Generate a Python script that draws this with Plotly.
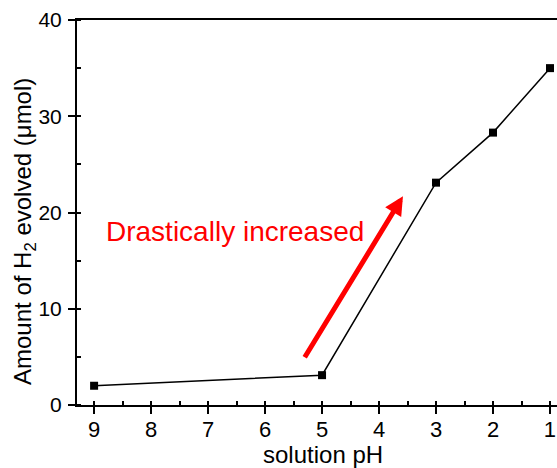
import plotly.graph_objects as go

ph = [9, 5, 3, 2, 1]
h2 = [2.0, 3.1, 23.1, 28.3, 35.0]
x_ticks = [9, 8, 7, 6, 5, 4, 3, 2, 1]
y_ticks = [0, 10, 20, 30, 40]

fig = go.Figure()
fig.add_trace(go.Scatter(
    x=ph, y=h2, mode="lines+markers",
    line=dict(color="black", width=1.5),
    marker=dict(symbol="square", size=8, color="black"),
    showlegend=False, cliponaxis=False,
))

fig.add_annotation(
    x=3.58, y=21.7, ax=5.32, ay=4.8,
    xref="x", yref="y", axref="x", ayref="y",
    text="", showarrow=True,
    arrowhead=2, arrowsize=0.75, arrowwidth=5, arrowcolor="#ff0000",
)
fig.add_annotation(
    x=6.53, y=18.0, xref="x", yref="y",
    text="Drastically increased", showarrow=False,
    font=dict(family="Liberation Sans, Arial", size=28, color="#ff0000"),
    xanchor="center", yanchor="middle",
)

xtick_font = dict(family="Liberation Sans, Arial", size=22, color="black")
ytick_font = dict(family="Liberation Sans, Arial", size=21, color="black")
title_font = dict(family="Liberation Sans, Arial", size=24, color="black")

# axis titles as annotations for exact placement
fig.add_annotation(
    x=(25 - 77) / 480, y=(405 - 232) / 385, xref="paper", yref="paper",
    text="Amount of H<sub>2</sub> evolved (μmol)", textangle=-90, showarrow=False,
    font=title_font, xanchor="center", yanchor="middle",
)
fig.add_annotation(
    x=(323 - 77) / 480, y=(405 - 454) / 385, xref="paper", yref="paper",
    text="solution pH", showarrow=False,
    font=title_font, xanchor="center", yanchor="middle",
)

fig.update_layout(
    width=557, height=468,
    margin=dict(l=77, r=0, t=20, b=63),
    paper_bgcolor="white", plot_bgcolor="white",
    font=ytick_font,
    xaxis=dict(
        range=[9.3, 0.877], tickvals=x_ticks, ticktext=[str(v) for v in x_ticks],
        showgrid=False, zeroline=False, automargin=False,
        showline=True, linecolor="black", linewidth=2, mirror=True,
        ticks="outside", ticklen=7, tickwidth=2, tickcolor="black",
        minor=dict(dtick=0.5, tick0=0.5, ticks="inside", ticklen=4, tickwidth=2, tickcolor="black"),
        tickfont=xtick_font, ticklabelstandoff=-3,
    ),
    yaxis=dict(
        range=[0, 40], tickvals=y_ticks,
        showgrid=False, zeroline=False, automargin=False,
        showline=True, linecolor="black", linewidth=2, mirror=False,
        ticks="outside", ticklen=7, tickwidth=2, tickcolor="black",
        minor=dict(dtick=5, tick0=0, ticks="inside", ticklen=4, tickwidth=2, tickcolor="black"),
        tickfont=ytick_font, ticklabelstandoff=2,
    ),
)

fig.write_html(
    "out.html",
    config={"displayModeBar": False},
    post_script="document.body.style.margin='0';document.body.style.overflow='hidden';",
)
